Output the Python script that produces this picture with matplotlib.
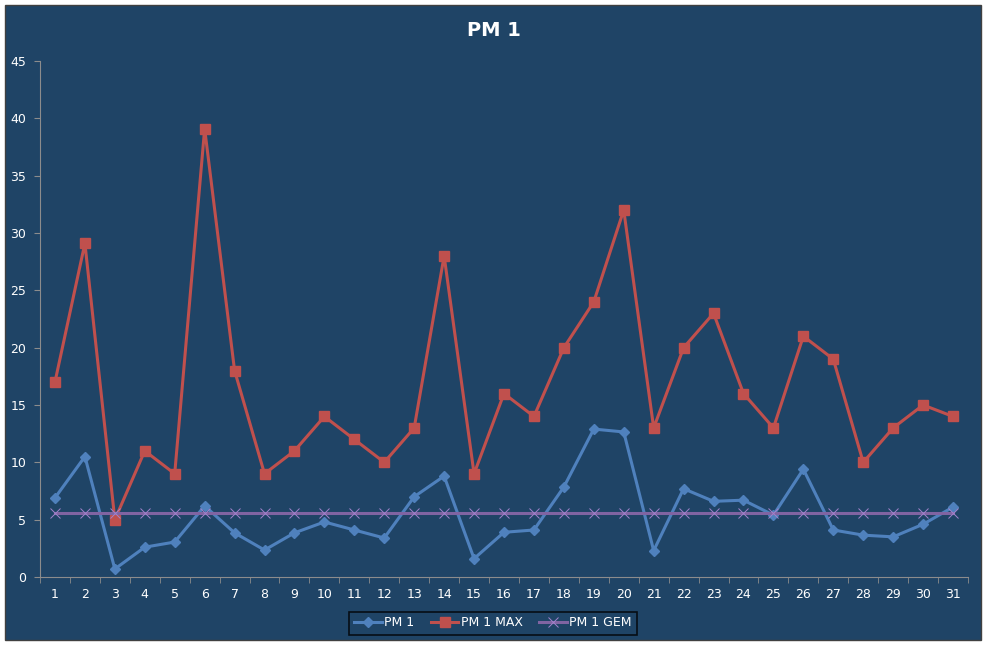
import numpy as np
from matplotlib import pyplot as plt
from matplotlib.patches import Rectangle

days = list(range(1, 32))
pm1 = [6.9, 10.5, 0.7, 2.6, 3.05, 6.2, 3.85, 2.35, 3.85, 4.8, 4.1, 3.4, 7.0, 8.8, 1.6,
       3.9, 4.1, 7.85, 12.9, 12.65, 2.3, 7.7, 6.6, 6.7, 5.4, 9.4, 4.1, 3.65, 3.5, 4.6, 6.1]
pm1_max = [17, 29.1, 5, 11, 9, 39.1, 18, 9, 11, 14, 12, 10, 13, 28, 9,
           16, 14, 20, 24, 32, 13, 20, 23, 16, 13, 21, 19, 10, 13, 15, 14]
pm1_gem = [5.6] * 31
yticks = list(range(0, 50, 5))

bg = '#1F4466'
fig = plt.figure(figsize=(9.87, 6.48), dpi=100, facecolor='white')
# chart area panel
fig.patches.append(Rectangle((5/987, 8/648), 976/987, 635/648, transform=fig.transFigure,
                             facecolor=bg, edgecolor='#404040', linewidth=1, zorder=-1))

ax = fig.add_axes([40/987, 1-577/648, 928/987, 516/648])
ax.set_facecolor(bg)

ax.plot(days, pm1, color='#4F81BD', lw=2.2, marker='D', ms=5, label='PM 1')
ax.plot(days, pm1_max, color='#C0504D', lw=2.2, marker='s', ms=7, label='PM 1 MAX')
ax.plot(days, pm1_gem, color='#8064A2', lw=2.2, marker='x', ms=7, mew=0.7,
        mec='#A283CC', label='PM 1 GEM')

ax.set_xlim(0.5, 31.5)
ax.set_ylim(0, 45)
ax.set_xticks(days)
ax.set_xticks(np.arange(0.5, 32, 1), minor=True)
ax.set_yticks(yticks)
ax.tick_params(axis='x', which='major', length=0, pad=8, labelsize=9, labelcolor='white')
ax.tick_params(axis='x', which='minor', length=4, color='#8C8C8C')
ax.tick_params(axis='y', length=4, color='#8C8C8C', labelsize=9, labelcolor='white', pad=6)
for s in ['top', 'right']:
    ax.spines[s].set_visible(False)
for s in ['left', 'bottom']:
    ax.spines[s].set_color('#8C8C8C')

fig.text(0.5, 1-31/648, 'PM 1', ha='center', va='center', color='white',
         fontsize=14, fontweight='bold')

leg = fig.legend(loc='center', bbox_to_anchor=(493/987, 1-623/648), ncol=3,
                 frameon=True, fancybox=False, facecolor=bg, edgecolor='black',
                 fontsize=9, labelcolor='white', handlelength=2.2, handletextpad=0.2,
                 columnspacing=1.3, borderpad=0.4, borderaxespad=0)
leg.get_frame().set_linewidth(1.2)

fig.savefig('out.png', dpi=100, facecolor='white')
